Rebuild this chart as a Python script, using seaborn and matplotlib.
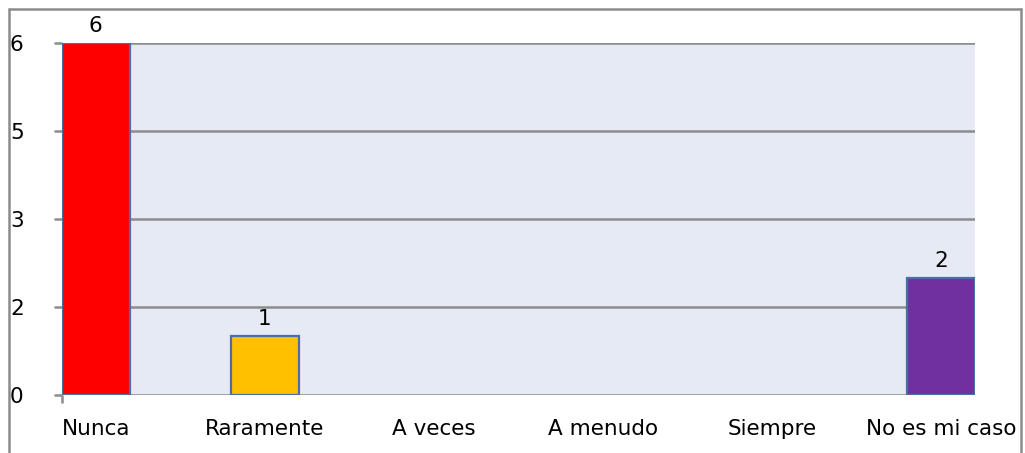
import pandas as pd
import seaborn as sns
import matplotlib.pyplot as plt
from matplotlib.lines import Line2D

# chart data
categories = ['Nunca', 'Raramente', 'A veces', 'A menudo', 'Siempre', 'No es mi caso']
counts = [6, 1, 0, 0, 0, 2]
bar_colors = ['#FF0000', '#FFC000', '#4F81BD', '#C0504D', '#9BBB59', '#7030A0']
ytick_values = [0, 1.5, 3, 4.5, 6]
ytick_labels = ['0', '2', '3', '5', '6']

df = pd.DataFrame({'categoria': categories, 'valor': counts})

sns.set_style('white')
plt.rcParams['font.family'] = ['DejaVu Sans']
plt.rcParams['text.color'] = 'black'
plt.rcParams['xtick.color'] = 'black'
plt.rcParams['ytick.color'] = 'black'

W, H = 1025, 453
fig = plt.figure(figsize=(W / 100, H / 100), dpi=100)
ax = fig.add_axes([62 / W, (H - 395) / H, (975 - 62) / W, (395 - 43) / H])

grid_col = '#8C8C8C'
fs = 15.5
ax.set_facecolor('#E6EAF4')

sns.barplot(data=df, x='categoria', y='valor', hue='categoria',
            palette=bar_colors, legend=False, width=0.4, saturation=1,
            edgecolor='#4A6FA5', linewidth=1.6, ax=ax, zorder=3)

# value labels above the non-empty bars, hide empty bars
for bars, v in zip(ax.containers, counts):
    if v > 0:
        ax.bar_label(bars, labels=[str(v)], padding=5, fontsize=fs,
                     color='black')
    else:
        for p in bars:
            p.set_visible(False)

ax.set_xlim(-0.2, 5.2)
ax.set_ylim(0, 6)
ax.set_yticks(ytick_values)
ax.set_yticklabels(ytick_labels)
for lab in ax.get_yticklabels():
    lab.set_horizontalalignment('left')
for y in ytick_values:
    ax.axhline(y, color=grid_col, lw=1.8, zorder=1)

ax.tick_params(axis='y', length=6, width=1.8, color=grid_col, pad=31.5,
               labelsize=fs, left=True, labelcolor='black')
ax.tick_params(axis='x', length=0, pad=17, labelsize=fs, labelcolor='black')
ax.set_xticks([-0.2], minor=True)
ax.tick_params(axis='x', which='minor', length=6, width=1.8, color=grid_col,
               bottom=True)

ax.set_xlabel('')
ax.set_ylabel('')
for s in ax.spines.values():
    s.set_visible(False)

# outer frame (left, top, right)
kw = dict(color=grid_col, lw=1.8, transform=fig.transFigure)
fig.add_artist(Line2D([9 / W, 9 / W], [0, 1 - 8.5 / H], **kw))
fig.add_artist(Line2D([9 / W, 1021 / W], [1 - 8.5 / H, 1 - 8.5 / H], **kw))
fig.add_artist(Line2D([1021 / W, 1021 / W], [0, 1 - 8.5 / H], **kw))

fig.savefig('out.png', dpi=100)
